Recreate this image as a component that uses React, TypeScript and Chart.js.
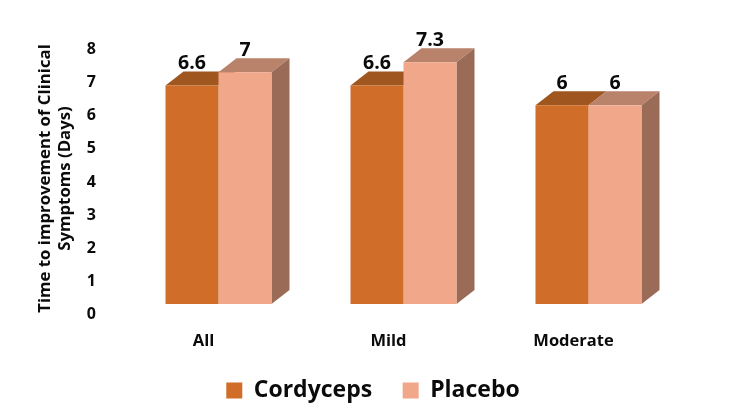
import React, { useEffect, useRef } from "react";
import { Chart, registerables } from "chart.js";

Chart.register(...registerables);

const categories = ["All", "Mild", "Moderate"];
const seriesNames = ["Cordyceps", "Placebo"];
const cordyceps = [6.6, 6.6, 6];
const placebo = [7, 7.3, 6];
const yTicks = [0, 1, 2, 3, 4, 5, 6, 7, 8];

const FONT = "'Open Sans', sans-serif";
const INK = "#0b0b0b";
const FRONT = ["#D06D29", "#F1A88A"];
const TOP = ["#A0561F", "#B8826B"];
const SIDE = "#9A6B57";
const LIFT = 10.5;
const DX = 18;
const DY = 14;
const LEGEND_SHIFT = 15;
const TITLE_SHIFT = -3.5;

const depthPlugin = {
  id: "depth",
  afterLayout(chart: any) {
    chart.legend.left += LEGEND_SHIFT;
    chart.legend.right += LEGEND_SHIFT;
  },
  beforeDatasetsDraw(chart: any) {
    const { ctx } = chart;
    ctx.save();
    ctx.translate(0, -LIFT);
    chart.data.datasets.forEach((_: any, di: number) => {
      const meta = chart.getDatasetMeta(di);
      meta.data.forEach((bar: any) => {
        const { x, y, base, width } = bar.getProps(["x", "y", "base", "width"], true);
        const l = x - width / 2;
        const r = x + width / 2;
        ctx.fillStyle = TOP[di];
        ctx.beginPath();
        ctx.moveTo(l, y);
        ctx.lineTo(l + DX, y - DY);
        ctx.lineTo(r + DX, y - DY);
        ctx.lineTo(r, y);
        ctx.closePath();
        ctx.fill();
        if (di === chart.data.datasets.length - 1) {
          ctx.fillStyle = SIDE;
          ctx.beginPath();
          ctx.moveTo(r, y);
          ctx.lineTo(r + DX, y - DY);
          ctx.lineTo(r + DX, base - DY);
          ctx.lineTo(r, base);
          ctx.closePath();
          ctx.fill();
        }
      });
    });
  },
  afterDatasetsDraw(chart: any) {
    const { ctx } = chart;
    ctx.restore();
    ctx.save();
    ctx.fillStyle = INK;
    ctx.font = `bold 19.5px ${FONT}`;
    ctx.textAlign = "center";
    ctx.textBaseline = "middle";
    chart.data.datasets.forEach((ds: any, di: number) => {
      chart.getDatasetMeta(di).data.forEach((bar: any, i: number) => {
        const { x, y } = bar.getProps(["x", "y"], true);
        ctx.fillText(String(ds.data[i]), x, y - LIFT - 22);
      });
    });
    ctx.restore();
  },
};

export default function App() {
  const ref = useRef<HTMLCanvasElement>(null);
  useEffect(() => {
    const chart = new Chart(ref.current!, {
      type: "bar",
      data: {
        labels: categories,
        datasets: [
          { label: seriesNames[0], data: cordyceps, backgroundColor: FRONT[0], borderWidth: 0 },
          { label: seriesNames[1], data: placebo, backgroundColor: FRONT[1], borderWidth: 0 },
        ],
      },
      options: {
        animation: false,
        responsive: false,
        layout: { padding: { top: 49.5, left: 35, right: 69, bottom: 7 } },
        datasets: { bar: { categoryPercentage: 0.573, barPercentage: 1 } },
        scales: {
          x: {
            border: { display: false },
            grid: { display: false, drawTicks: false },
            ticks: { color: INK, font: { family: FONT, size: 16.5, weight: "bold" }, padding: 17, labelOffset: -15, maxRotation: 0 },
            afterFit(s: any) { s.height = 34; },
          },
          y: {
            min: 0,
            max: 8,
            afterBuildTicks(s: any) { s.ticks = yTicks.map((value) => ({ value })); },
            border: { display: false },
            grid: { display: false, drawTicks: false },
            ticks: { color: INK, font: { family: FONT, size: 16, weight: "bold" }, padding: 30 },
            title: {
              display: true,
              text: ["Time to improvement of Clinical", "Symptoms (Days)"],
              color: INK,
              font: { family: FONT, size: 16.8, weight: "bold" },
              padding: 0,
            },
            afterFit(s: any) { s.width = 91; },
          },
        },
        plugins: {
          tooltip: { enabled: false },
          legend: {
            position: "bottom",
            labels: { color: INK, boxWidth: 16, boxHeight: 16, padding: 30.5, font: { family: FONT, size: 23, weight: "bold" } },
          },
        },
      } as any,
      plugins: [depthPlugin],
    });
    const yScale: any = chart.scales.y;
    const drawTitle = yScale.drawTitle;
    yScale.drawTitle = function () {
      chart.ctx.save();
      chart.ctx.translate(0, TITLE_SHIFT);
      drawTitle.call(yScale);
      chart.ctx.restore();
    };
    chart.draw();
    return () => chart.destroy();
  }, []);
  return (
    <div style={{ position: "absolute", left: 0, top: 0, width: 750, height: 419, background: "#fff" }}>
      <canvas ref={ref} width={750} height={419} style={{ display: "block" }} />
    </div>
  );
}
